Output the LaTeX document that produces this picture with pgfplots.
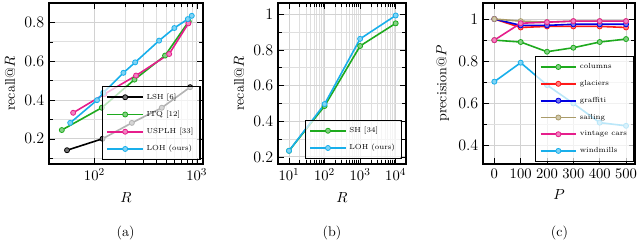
\documentclass[border=0pt]{standalone}
\usepackage{pgfplots}
\pgfplotsset{compat=1.18}
\definecolor{mygreen}{RGB}{30,170,30}
\definecolor{mypink}{RGB}{230,30,140}
\definecolor{mycyan}{RGB}{25,175,235}
\definecolor{myred}{RGB}{255,25,25}
\definecolor{myblue}{RGB}{0,0,225}
\definecolor{mytan}{RGB}{170,155,105}
\newcommand{\lt}[2]{\makebox[#1][l]{#2}}
\pgfplotsset{
  myaxis/.style={
    scale only axis, height=120.75pt,
    axis line style={line width=1pt},
    grid=both,
    major grid style={gray!35, line width=0.7pt},
    minor grid style={gray!25, line width=0.5pt},
    tick style={black, line width=0.4pt},
    font=\fontsize{10.5}{12}\selectfont,
    yticklabel style={font=\fontsize{12}{14}\selectfont},
    xticklabel style={font=\fontsize{11}{13}\selectfont},
    xlabel style={yshift=-2pt},
    legend cell align=left,
    legend style={draw=black, line width=0.9pt, fill=white, fill opacity=0.7, text opacity=1,
      font=\fontsize{5.5}{6.5}\selectfont, row sep=3.3pt, inner sep=3pt},
    legend image code/.code={\draw[line width=1.4pt,mark repeat=2,mark phase=2,fill opacity=1] plot coordinates {(0cm,0cm) (0.47cm,0cm) (0.94cm,0cm)};},
  },
  ser/.style={color=#1, line width=1.2pt, mark=*, mark size=1.9pt, mark options={solid, line width=0.6pt, fill=#1!55!white, draw=#1}},
}
\begin{document}
\begin{tikzpicture}
\path[use as bounding box] (0,0) rectangle (480pt,-180.75pt);
% (a)
\begin{axis}[myaxis, at={(36.75pt,-123pt)}, anchor=south west, width=115.5pt,
  xmode=log, xmin=36, xmax=1150, ymin=0.07, ymax=0.9,
  xtick={100,1000}, ytick={0.2,0.4,0.6,0.8}, minor ytick={0.1,0.3,0.5,0.7,0.9},
  xlabel={$R$}, ylabel={recall@$R$},
  legend style={at={(0.985,0.025)}, anchor=south east}]
\addplot[ser=black] coordinates {(54,0.141) (120,0.200) (232,0.282) (455,0.360) (861,0.466)};
\addlegendentry{\lt{32pt}{LSH [6]}}
\addplot[ser=mygreen] coordinates {(48,0.245) (118,0.360) (246,0.505) (490,0.629) (835,0.805)};
\addlegendentry{ITQ [12]}
\addplot[ser=mypink] coordinates {(62,0.334) (125,0.430) (255,0.526) (537,0.637) (828,0.795)};
\addlegendentry{USPLH [33]}
\addplot[ser=mycyan] coordinates {(58,0.282) (106,0.399) (122,0.437) (192,0.540) (250,0.594) (428,0.706) (604,0.771) (817,0.817) (893,0.834)};
\addlegendentry{LOH (ours)}
\end{axis}
% (b)
\begin{axis}[myaxis, at={(208.5pt,-123pt)}, anchor=south west, width=96pt,
  xmode=log, xmin=4.9, xmax=19500, ymin=0.16, ymax=1.063,
  xtick={10,100,1000,10000}, ytick={0.2,0.4,0.6,0.8,1}, minor ytick={0.3,0.5,0.7,0.9},
  xlabel={$R$}, ylabel={recall@$R$},
  legend style={at={(0.971,0.031)}, anchor=south east}]
\addplot[ser=mygreen] coordinates {(10,0.234) (100,0.485) (1000,0.822) (10000,0.949)};
\addlegendentry{\lt{34pt}{SH [34]}}
\addplot[ser=mycyan] coordinates {(10,0.234) (100,0.496) (1000,0.862) (10000,0.993)};
\addlegendentry{LOH (ours)}
\end{axis}
% (c)
\begin{axis}[myaxis, at={(362.25pt,-123pt)}, anchor=south west, width=114pt,
  xmin=-43, xmax=534, ymin=0.313, ymax=1.076,
  xtick={0,100,200,300,400,500}, ytick={0.4,0.6,0.8,1}, minor ytick={0.5,0.7,0.9},
  minor xtick={}, xlabel={$P$}, ylabel={precision@$P$},
  legend style={at={(0.995,0.014)}, anchor=south east}]
\addplot[ser=mygreen] coordinates {(0,0.900) (100,0.891) (200,0.845) (300,0.864) (400,0.891) (500,0.905)};
\addlegendentry{\lt{32pt}{columns}}
\addplot[ser=myred] coordinates {(0,1.0) (100,0.960) (200,0.965) (300,0.965) (400,0.965) (500,0.960)};
\addlegendentry{glaciers}
\addplot[ser=myblue] coordinates {(0,1.0) (100,0.970) (200,0.970) (300,0.975) (400,0.975) (500,0.975)};
\addlegendentry{graffiti}
\addplot[ser=mytan] coordinates {(0,1.0) (100,0.990) (200,0.985) (300,0.990) (400,0.990) (500,0.990)};
\addlegendentry{sailing}
\addplot[ser=mypink] coordinates {(0,0.900) (100,0.980) (200,0.985) (300,0.990) (400,0.990) (500,0.990)};
\addlegendentry{vintage cars}
\addplot[ser=mycyan] coordinates {(0,0.703) (100,0.793) (200,0.687) (300,0.600) (400,0.509) (500,0.494)};
\addlegendentry{windmills}
\end{axis}
\node[font=\fontsize{10.5}{12}\selectfont] at (94.2pt,-174.4pt) {(a)};
\node[font=\fontsize{10.5}{12}\selectfont] at (249pt,-174.4pt) {(b)};
\node[font=\fontsize{10.5}{12}\selectfont] at (419.6pt,-174.4pt) {(c)};
\end{tikzpicture}
\end{document}
